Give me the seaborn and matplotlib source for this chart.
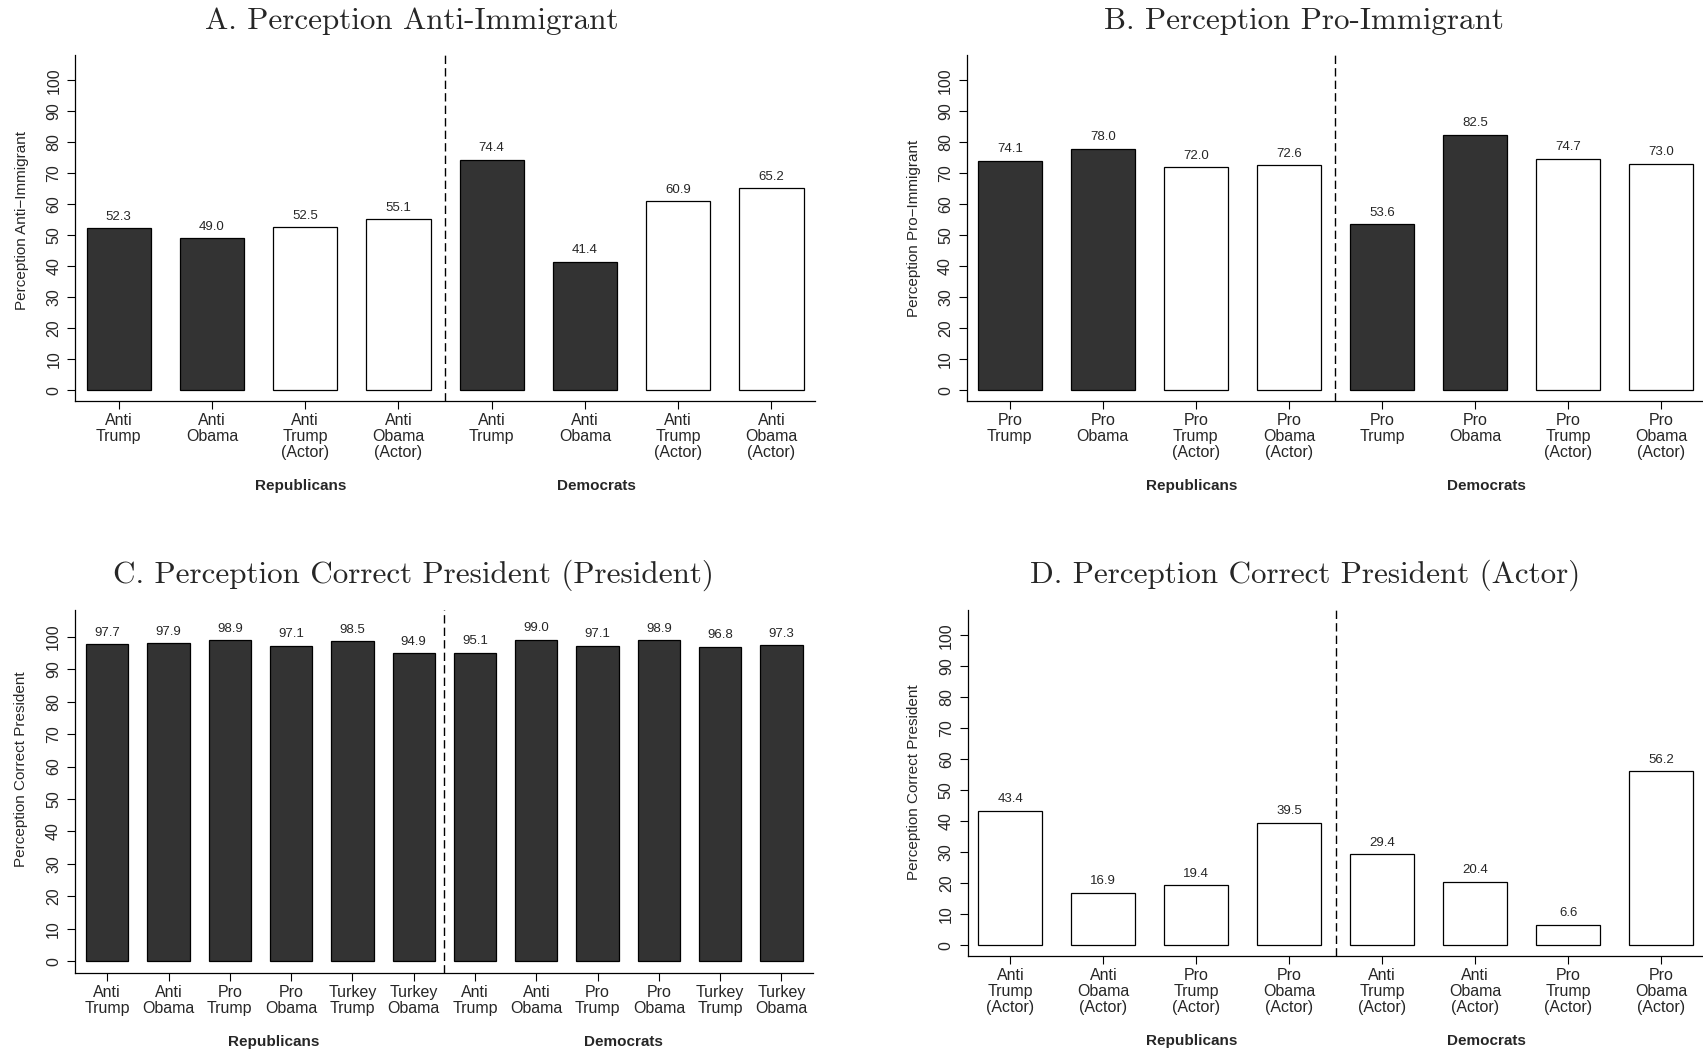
import matplotlib
matplotlib.use("Agg")
import pandas as pd
import matplotlib.pyplot as plt
import matplotlib.transforms as mtransforms
import seaborn as sns

# Panel A: perception anti-immigrant
anti_labels = ["Anti\nTrump", "Anti\nObama", "Anti\nTrump\n(Actor)", "Anti\nObama\n(Actor)"]
anti_values = [52.3, 49.0, 52.5, 55.1, 74.4, 41.4, 60.9, 65.2]
anti_kinds = ["dark", "dark", "light", "light"] * 2

# Panel B: perception pro-immigrant
pro_labels = ["Pro\nTrump", "Pro\nObama", "Pro\nTrump\n(Actor)", "Pro\nObama\n(Actor)"]
pro_values = [74.1, 78.0, 72.0, 72.6, 53.6, 82.5, 74.7, 73.0]
pro_kinds = ["dark", "dark", "light", "light"] * 2

# Panel C: correct president (president)
pres_labels = ["Anti\nTrump", "Anti\nObama", "Pro\nTrump", "Pro\nObama", "Turkey\nTrump", "Turkey\nObama"]
pres_values = [97.7, 97.9, 98.9, 97.1, 98.5, 94.9, 95.1, 99.0, 97.1, 98.9, 96.8, 97.3]
pres_kinds = ["dark"] * 12

# Panel D: correct president (actor)
actor_labels = ["Anti\nTrump\n(Actor)", "Anti\nObama\n(Actor)", "Pro\nTrump\n(Actor)", "Pro\nObama\n(Actor)"]
actor_values = [43.4, 16.9, 19.4, 39.5, 29.4, 20.4, 6.6, 56.2]
actor_kinds = ["light"] * 8

groups = ["Republicans", "Democrats"]
palette = {"dark": "#333333", "light": "white"}

sns.set_theme(style="ticks")
plt.rcParams["font.family"] = ["Liberation Sans", "DejaVu Sans"]

fig = plt.figure(figsize=(17.03, 10.51), dpi=100)


def draw_panel(rect, labels, values, kinds, ylabel, ylab_y, xlim, divider, group_x, group_y):
    ax = fig.add_axes(rect)
    df = pd.DataFrame({"pos": range(len(values)), "value": values, "kind": kinds})
    sns.barplot(data=df, x="pos", y="value", hue="kind", palette=palette, dodge=False,
                width=0.69, edgecolor="black", linewidth=0.9, saturation=1,
                legend=False, ax=ax)
    for c in ax.containers:
        ax.bar_label(c, fmt="%.1f", padding=4, fontsize=9.5)
    ax.set_xlim(*xlim)
    ax.set_ylim(-3.5, 108.2)
    ax.set_xticks(range(len(values)))
    ax.set_xticklabels(labels * 2, fontsize=11.5, linespacing=1.05)
    ax.set_yticks(range(0, 101, 10))
    ax.set_yticklabels([str(v) for v in range(0, 101, 10)], rotation=90, va="center", fontsize=11.5)
    ax.tick_params(axis="x", length=6, width=0.8, pad=3, color="black")
    ax.tick_params(axis="y", length=6, width=0.8, pad=4, color="black")
    ax.set_xlabel("")
    ax.set_ylabel(ylabel, fontsize=11)
    ax.yaxis.set_label_coords(-0.063, ylab_y)
    sns.despine(ax=ax)
    for s in ["left", "bottom"]:
        ax.spines[s].set_linewidth(0.9)
        ax.spines[s].set_color("black")
    ax.axvline(divider, color="black", lw=1, ls=(0, (6, 3)))
    trans = mtransforms.blended_transform_factory(ax.transData, ax.transAxes)
    for gx, g in zip(group_x, groups):
        ax.text(gx, group_y, g, transform=trans, ha="center", va="center",
                fontsize=11, fontweight="bold")
    return ax


draw_panel([0.0442, 0.6185, 0.4345, 0.3292], anti_labels, anti_values, anti_kinds,
           "Perception Anti\u2212Immigrant", 0.523, (-0.466, 7.47), 3.5, [1.95, 5.12], -0.245)
draw_panel([0.5678, 0.6185, 0.4322, 0.3292], pro_labels, pro_values, pro_kinds,
           "Perception Pro\u2212Immigrant", 0.5, (-0.46, 7.45), 3.5, [1.95, 5.12], -0.245)
draw_panel([0.0440, 0.0745, 0.4336, 0.3451], pres_labels, pres_values, pres_kinds,
           "Perception Correct President", 0.562, (-0.527, 11.52), 5.5, [2.72, 8.42], -0.19)
draw_panel([0.5682, 0.0904, 0.4318, 0.3292], actor_labels, actor_values, actor_kinds,
           "Perception Correct President", 0.503, (-0.46, 7.45), 3.5, [1.95, 5.12], -0.245)

title_kw = dict(fontfamily="cmr10", fontsize=22.4, ha="center", va="baseline")
fig.text(412 / 1703, 1 - 29 / 1051, "A. Perception Anti-Immigrant", **title_kw)
fig.text(1304 / 1703, 1 - 29 / 1051, "B. Perception Pro-Immigrant", **title_kw)
fig.text(413 / 1703, 1 - 583 / 1051, "C. Perception Correct President (President)", **title_kw)
fig.text(1305 / 1703, 1 - 583 / 1051, "D. Perception Correct President (Actor)", **title_kw)

fig.savefig("out.png", dpi=100, facecolor="white")
